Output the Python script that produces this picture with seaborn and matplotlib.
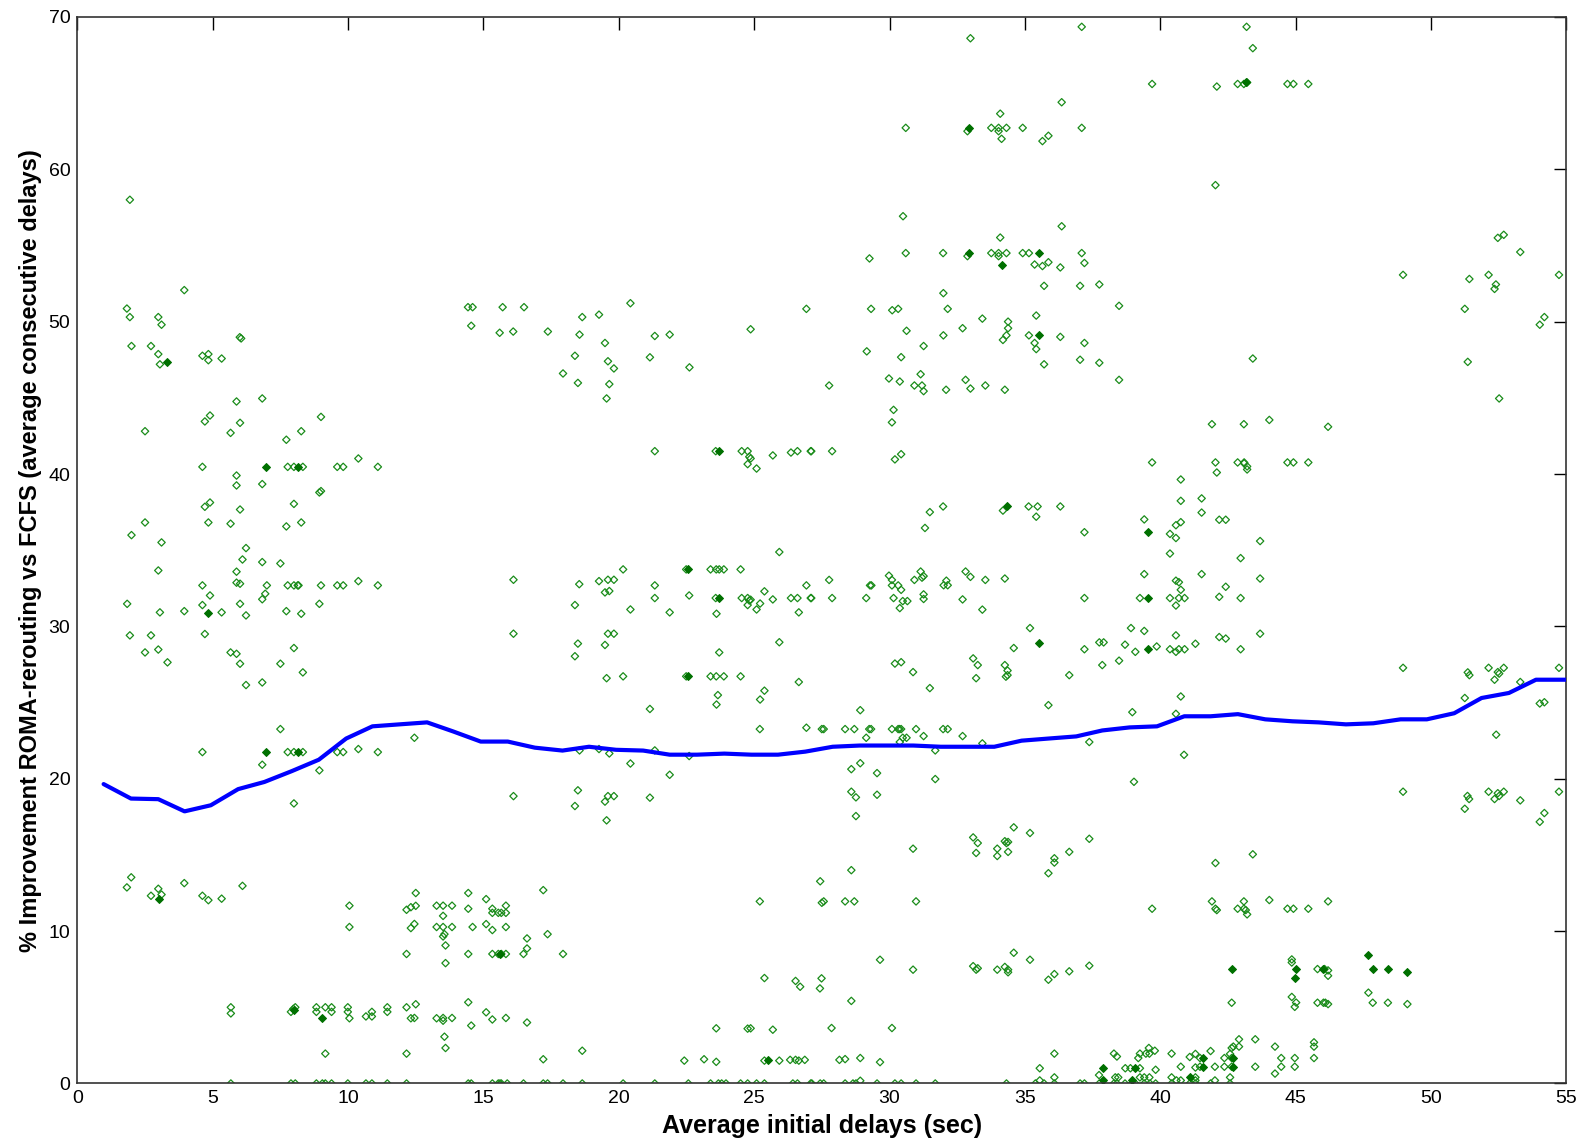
import numpy as np
import pandas as pd
import matplotlib
matplotlib.use("Agg")
import matplotlib.pyplot as plt
import seaborn as sns

# ---- data ---------------------------------------------------------------
# moving average (blue line)
line_x = [0.97, 1.98, 2.99, 3.96, 4.93, 5.94, 6.91, 7.92, 8.92, 9.93, 10.9, 11.9,
          12.92, 13.89, 14.9, 15.9, 16.9, 17.92, 18.9, 19.9, 20.9, 21.88, 22.89,
          23.9, 24.9, 25.88, 26.89, 27.9, 28.9, 29.87, 30.88, 31.89, 32.9, 33.87,
          34.88, 35.88, 36.9, 37.86, 38.87, 39.88, 40.89, 41.86, 42.87, 43.88,
          44.89, 45.85, 46.86, 47.87, 48.88, 49.85, 50.86, 51.87, 52.88, 53.88, 55.0]
line_y = [19.65, 18.7, 18.66, 17.86, 18.26, 19.32, 19.79, 20.5, 21.25, 22.64, 23.44,
          23.57, 23.7, 23.1, 22.44, 22.44, 22.04, 21.85, 22.1, 21.9, 21.85, 21.58,
          21.58, 21.65, 21.58, 21.58, 21.78, 22.1, 22.18, 22.18, 22.18, 22.1, 22.1,
          22.1, 22.5, 22.64, 22.78, 23.17, 23.37, 23.44, 24.1, 24.1, 24.24, 23.9,
          23.77, 23.7, 23.57, 23.64, 23.9, 23.9, 24.3, 25.3, 25.63, 26.5, 26.5]

# scattered samples, x < 13
left_high = [(1.94, 58.0), (3.95, 52.07), (1.83, 50.86), (1.94, 50.3), (2.99, 50.3),
             (3.11, 49.8), (6.0, 48.98), (6.05, 48.9), (2.0, 48.4), (2.72, 48.4),
             (2.99, 47.87), (3.05, 47.2), (4.62, 47.76), (4.84, 47.87), (4.84, 47.47),
             (5.33, 47.58), (5.88, 44.76), (6.83, 44.96), (4.9, 43.84), (4.71, 43.45),
             (6.01, 43.36), (9.0, 43.75), (2.5, 42.81), (5.66, 42.7), (8.27, 42.81),
             (7.72, 42.25), (10.38, 41.02), (4.62, 40.47), (7.77, 40.47), (8.0, 40.47),
             (8.33, 40.47), (9.6, 40.47), (9.82, 40.47), (11.1, 40.47)]
left_mid = [(5.88, 39.9), (5.88, 39.25), (6.83, 39.34), (8.94, 38.79), (9.0, 38.88),
            (4.9, 38.13), (4.71, 37.85), (6.01, 37.67), (8.0, 38.04), (2.5, 36.82),
            (4.84, 36.82), (5.66, 36.74), (7.72, 36.56), (8.27, 36.82), (2.0, 35.99),
            (3.11, 35.51), (6.23, 35.14), (6.1, 34.39), (6.83, 34.22), (7.5, 34.13),
            (2.99, 33.67), (5.88, 33.59), (4.62, 32.69), (7.0, 32.69), (7.77, 32.69),
            (8.0, 32.69), (8.14, 32.69), (8.17, 32.69), (9.0, 32.69), (9.6, 32.69),
            (9.82, 32.69), (11.1, 32.69), (5.88, 32.87), (6.01, 32.8), (10.38, 32.97),
            (6.94, 32.14), (6.83, 31.78), (4.9, 32.03), (1.84, 31.48), (4.62, 31.4),
            (6.01, 31.48), (8.94, 31.48), (3.05, 30.92), (3.95, 31.0), (5.33, 30.92),
            (6.23, 30.72), (7.72, 31.0), (8.27, 30.83), (1.94, 29.41), (2.72, 29.41),
            (4.71, 29.5), (8.0, 28.58), (2.5, 28.29), (2.99, 28.48), (5.66, 28.29),
            (5.88, 28.2), (3.33, 27.64), (6.01, 27.55), (7.5, 27.55), (8.33, 26.98),
            (6.23, 26.15), (6.83, 26.32)]
left_low = [(7.5, 23.26), (12.45, 22.69), (4.62, 21.75), (7.77, 21.75), (8.0, 21.75),
            (8.33, 21.75), (9.6, 21.75), (9.82, 21.75), (11.1, 21.75), (10.38, 21.95),
            (6.83, 20.92), (8.94, 20.55), (8.0, 18.38), (1.99, 13.53), (1.83, 12.87),
            (3.95, 13.15), (2.99, 12.78), (2.72, 12.32), (3.11, 12.4), (4.62, 12.32),
            (4.84, 12.03), (5.33, 12.13), (6.1, 12.97), (10.05, 11.67), (10.05, 10.27),
            (12.5, 12.5), (12.16, 11.4), (12.32, 11.57), (12.5, 11.66), (12.32, 10.2),
            (12.45, 10.47), (12.16, 8.5), (13.27, 11.67), (13.27, 10.27),
            (5.67, 5.0), (5.67, 4.6), (7.89, 4.7), (7.98, 4.9), (8.05, 5.0),
            (8.83, 5.0), (8.83, 4.7), (9.16, 5.0), (9.39, 5.0), (9.39, 4.7),
            (9.99, 5.0), (9.99, 4.7), (10.66, 4.4), (10.88, 4.7), (10.88, 4.4),
            (11.45, 5.0), (11.45, 4.7), (12.16, 5.0), (12.5, 5.2), (10.05, 4.28),
            (12.32, 4.28), (12.45, 4.3), (13.27, 4.28), (9.16, 1.96), (12.16, 1.96)]

# 13 < x < 27
mid_high = [(14.43, 50.95), (14.6, 50.95), (15.71, 50.95), (16.5, 50.95), (20.43, 51.21),
            (26.93, 50.84), (14.55, 49.73), (18.65, 50.3), (19.27, 50.46), (15.6, 49.27),
            (16.1, 49.35), (17.38, 49.35), (18.55, 49.15), (21.33, 49.06), (21.88, 49.15),
            (24.87, 49.5), (19.49, 48.6), (18.38, 47.76), (21.15, 47.66), (19.6, 47.4),
            (19.82, 46.93), (17.94, 46.6), (18.49, 45.98), (22.61, 47.0), (19.65, 45.9),
            (19.55, 44.96), (21.33, 41.5), (23.58, 41.5), (24.54, 41.5), (24.76, 41.5),
            (26.6, 41.5), (27.09, 41.5), (25.69, 41.22), (26.36, 41.41), (24.82, 41.13),
            (24.87, 41.02), (24.76, 40.65), (25.09, 40.36)]
mid_mid = [(25.93, 34.88), (20.16, 33.74), (22.49, 33.74), (23.39, 33.74), (23.6, 33.74),
           (23.71, 33.74), (23.88, 33.74), (24.5, 33.74), (16.11, 33.06), (18.54, 32.77),
           (19.27, 32.97), (19.6, 33.06), (19.82, 33.06), (19.49, 32.23), (19.65, 32.32),
           (21.33, 32.69), (21.33, 31.86), (22.6, 32.03), (23.58, 31.86), (24.54, 31.86),
           (24.76, 31.86), (26.36, 31.86), (26.6, 31.86), (27.09, 31.86), (24.82, 31.7),
           (24.87, 31.75), (26.93, 32.69), (25.38, 32.3), (25.69, 31.77), (24.76, 31.4),
           (25.22, 31.5), (25.09, 31.11), (18.38, 31.4), (20.43, 31.11), (21.88, 30.92),
           (23.61, 30.83), (26.65, 30.92), (16.11, 29.52), (19.6, 29.52), (19.82, 29.52),
           (18.49, 28.87), (19.49, 28.78), (18.38, 28.04), (25.93, 28.96), (23.71, 28.29),
           (20.16, 26.72), (22.49, 26.72), (23.39, 26.72), (23.6, 26.72), (23.88, 26.72),
           (24.5, 26.72), (19.55, 26.6), (26.65, 26.35), (25.38, 25.78), (23.66, 25.49),
           (25.22, 25.2), (23.61, 24.87), (21.15, 24.58)]
mid_low = [(25.21, 23.26), (26.93, 23.35), (18.55, 21.86), (19.27, 21.95), (19.65, 21.66),
           (21.33, 21.86), (22.6, 21.49), (20.43, 21.0), (21.88, 20.26), (16.11, 18.86),
           (18.49, 19.24), (18.38, 18.21), (19.49, 18.5), (19.6, 18.86), (19.82, 18.86),
           (21.15, 18.76), (19.55, 17.27), (14.44, 12.5), (13.51, 11.67), (13.84, 11.67),
           (14.44, 11.47), (15.1, 12.1), (15.33, 11.47), (15.33, 11.2), (15.55, 11.2),
           (15.66, 11.2), (15.83, 11.2), (15.83, 11.67), (17.21, 12.69), (13.51, 11.0),
           (13.51, 10.27), (13.84, 10.27), (14.6, 10.27), (15.1, 10.46), (15.33, 10.07),
           (15.83, 10.27), (13.56, 9.8), (13.51, 9.65), (13.6, 9.06), (16.61, 9.52),
           (16.61, 8.86), (17.37, 9.8), (13.6, 7.9), (14.44, 8.5), (15.33, 8.5),
           (15.55, 8.5), (15.66, 8.5), (15.83, 8.5), (16.48, 8.5), (17.94, 8.5),
           (14.44, 5.33), (15.1, 4.67), (13.51, 4.3), (13.51, 4.12), (13.84, 4.3),
           (14.55, 3.8), (15.33, 4.2), (15.83, 4.3), (16.61, 4.0), (13.56, 3.07),
           (13.6, 2.33), (17.21, 1.59), (18.65, 2.15), (25.38, 6.92), (26.53, 6.73),
           (26.7, 6.35), (25.21, 11.95), (23.6, 3.62), (24.76, 3.6), (24.87, 3.62),
           (25.69, 3.53), (22.42, 1.5), (23.15, 1.59), (23.6, 1.42), (25.38, 1.5),
           (25.93, 1.5), (26.33, 1.55), (26.53, 1.55), (26.65, 1.5), (26.87, 1.55)]

# 27 < x < 41
right_high = [(32.99, 68.6), (37.1, 69.35), (39.7, 65.6), (36.36, 64.4), (34.09, 63.65),
              (30.6, 62.72), (33.76, 62.72), (34.03, 62.72), (34.32, 62.72), (34.92, 62.72),
              (37.1, 62.72), (32.88, 62.5), (34.03, 62.5), (34.14, 62.0), (35.87, 62.2),
              (35.65, 61.85), (30.5, 56.92), (36.36, 56.26), (34.09, 55.52), (30.6, 54.5),
              (31.98, 54.5), (33.76, 54.5), (34.03, 54.5), (34.32, 54.5), (34.92, 54.5),
              (35.15, 54.5), (37.1, 54.5), (32.88, 54.3), (34.03, 54.3), (29.26, 54.15),
              (35.36, 53.75), (35.65, 53.65), (35.87, 53.9), (36.31, 53.56), (37.2, 53.85),
              (35.71, 52.35), (37.04, 52.35), (37.75, 52.44), (31.99, 51.87), (38.48, 51.04),
              (29.32, 50.84), (30.1, 50.75), (30.32, 50.84), (32.15, 50.84), (33.43, 50.2),
              (35.42, 50.4), (34.38, 50.0), (34.38, 49.57), (32.7, 49.57), (30.63, 49.4),
              (31.99, 49.1), (34.32, 49.1), (34.19, 48.8), (35.15, 49.1), (36.31, 49.0),
              (35.36, 48.6), (35.42, 48.2), (37.2, 48.6), (31.26, 48.4), (29.16, 48.05),
              (30.43, 47.67), (35.71, 47.2), (37.04, 47.5), (37.75, 47.3), (38.48, 46.18),
              (27.77, 45.81), (29.98, 46.27), (30.38, 46.07), (31.15, 46.55), (30.92, 45.81),
              (31.2, 45.81), (31.26, 45.44), (32.09, 45.53), (32.81, 46.18), (32.99, 45.61),
              (33.54, 45.81), (34.26, 45.53), (30.15, 44.21), (30.09, 43.39), (27.11, 41.5),
              (27.88, 41.5), (30.43, 41.3), (30.2, 40.96), (39.7, 40.76)]
right_mid = [(40.76, 39.64), (40.76, 38.24), (40.76, 36.84), (39.41, 37.02), (40.36, 36.07),
             (40.58, 36.64), (40.58, 35.8), (40.36, 34.78), (31.98, 37.87), (35.14, 37.87),
             (35.47, 37.87), (36.31, 37.87), (34.19, 37.6), (31.49, 37.5), (35.42, 37.2),
             (31.31, 36.46), (37.2, 36.18), (27.77, 33.05), (29.28, 32.69), (29.33, 32.69),
             (29.98, 33.33), (30.09, 33.05), (30.09, 32.69), (30.32, 32.69), (30.43, 32.4),
             (30.92, 33.05), (31.15, 33.6), (31.2, 33.2), (31.26, 33.3), (32.0, 32.7),
             (32.1, 33.0), (32.15, 32.7), (32.81, 33.6), (32.99, 33.25), (33.54, 33.05),
             (34.26, 33.14), (27.11, 31.86), (27.88, 31.86), (29.14, 31.86), (30.15, 31.86),
             (37.2, 31.86), (39.25, 31.86), (40.36, 31.86), (40.69, 31.86), (40.9, 31.86),
             (30.49, 31.66), (30.66, 31.66), (31.26, 32.1), (31.26, 31.8), (32.7, 31.77),
             (30.38, 31.2), (33.43, 31.1), (39.41, 33.43), (40.58, 33.0), (40.69, 32.9),
             (40.76, 32.4), (40.58, 31.37), (35.19, 29.89), (34.59, 28.58), (38.92, 29.89),
             (39.41, 29.7), (40.58, 29.41), (37.75, 28.95), (37.91, 28.95), (38.7, 28.8),
             (39.08, 28.33), (39.87, 28.68), (40.36, 28.5), (40.58, 28.33), (40.69, 28.5),
             (40.9, 28.5), (37.2, 28.5), (37.86, 27.46), (38.48, 27.75), (30.2, 27.56),
             (30.43, 27.65), (30.87, 27.0), (33.09, 27.9), (33.26, 27.46), (34.26, 27.46),
             (34.36, 27.1), (34.36, 26.8), (34.3, 26.7), (33.2, 26.6), (36.64, 26.8),
             (31.49, 25.95), (40.76, 25.4), (28.92, 24.5), (35.87, 24.83), (38.97, 24.37),
             (40.58, 24.26)]
right_low = [(27.5, 23.26), (27.57, 23.26), (28.36, 23.26), (28.7, 23.26), (29.25, 23.26),
             (29.32, 23.26), (30.09, 23.26), (30.32, 23.26), (30.37, 23.26), (30.43, 23.26),
             (30.98, 23.26), (31.98, 23.26), (32.15, 23.26), (29.14, 22.69), (30.49, 22.69),
             (30.63, 22.69), (31.26, 22.8), (32.7, 22.8), (30.38, 22.41), (33.43, 22.32),
             (31.69, 21.86), (37.38, 22.41), (40.88, 21.57), (28.92, 21.02), (28.59, 20.63),
             (29.54, 20.37), (31.69, 19.98), (39.03, 19.8), (28.59, 19.15), (28.76, 18.78),
             (29.54, 18.95), (28.76, 17.55), (34.59, 16.81), (35.19, 16.44), (33.09, 16.15),
             (33.26, 15.78), (33.2, 15.13), (33.98, 15.41), (33.98, 14.93), (34.26, 15.9),
             (34.32, 15.78), (34.38, 15.85), (34.38, 15.2), (36.09, 14.78), (36.09, 14.5),
             (35.87, 13.8), (36.64, 15.2), (37.38, 16.06), (30.87, 15.41), (28.59, 14.0),
             (27.44, 13.27), (27.5, 11.86), (27.57, 11.95), (28.36, 11.95), (28.7, 11.95),
             (30.98, 11.95), (39.7, 11.47), (29.65, 8.12), (27.49, 6.9), (27.43, 6.24),
             (28.59, 5.42), (30.87, 7.47), (33.09, 7.7), (33.2, 7.47), (33.26, 7.56),
             (33.98, 7.47), (34.26, 7.65), (34.38, 7.47), (34.38, 7.3), (34.59, 8.58),
             (35.19, 8.12), (35.87, 6.81), (36.09, 7.18), (36.64, 7.36), (37.38, 7.73),
             (27.86, 3.64), (30.09, 3.64), (28.15, 1.55), (28.36, 1.6), (28.92, 1.67),
             (29.65, 1.4), (28.92, 0.18), (36.09, 1.96), (35.55, 1.0), (35.55, 0.2),
             (36.09, 0.4), (38.29, 1.96), (38.4, 1.77), (39.58, 2.33), (39.25, 1.96),
             (39.47, 1.96), (39.6, 1.96), (39.8, 2.15), (39.19, 1.67), (40.42, 1.96),
             (37.74, 0.55), (38.71, 1.0), (38.9, 1.0), (39.25, 1.0), (39.83, 0.9),
             (40.76, 1.1), (38.34, 0.4), (38.45, 0.4), (39.25, 0.4), (39.41, 0.4),
             (39.6, 0.4), (40.42, 0.4), (40.6, 0.2), (40.76, 0.2)]

# x > 41
far_high = [(43.19, 69.35), (43.42, 67.95), (42.09, 65.43), (42.86, 65.6), (43.09, 65.6),
            (43.21, 65.7), (44.7, 65.6), (44.92, 65.6), (45.47, 65.6), (42.04, 58.96),
            (43.42, 47.58), (48.97, 53.07), (52.47, 55.5), (52.69, 55.7), (53.3, 54.57),
            (51.42, 52.8), (52.13, 53.07), (52.4, 52.44), (52.35, 52.15), (51.25, 50.84),
            (54.19, 50.3), (54.02, 49.8), (54.73, 53.07), (51.36, 47.36), (52.52, 44.96),
            (41.91, 43.27), (43.09, 43.27), (44.03, 43.55), (46.2, 43.1), (42.04, 40.76),
            (42.86, 40.76), (43.1, 40.76), (43.1, 40.7), (44.7, 40.76), (44.92, 40.76),
            (45.47, 40.76), (43.21, 40.5), (43.21, 40.3), (42.09, 40.1)]
far_mid = [(41.53, 38.4), (41.53, 37.47), (42.18, 37.0), (42.42, 37.0), (43.69, 35.6),
           (42.97, 34.48), (41.53, 33.43), (42.42, 32.6), (43.69, 33.14), (42.18, 31.94),
           (42.97, 31.86), (42.18, 29.3), (42.42, 29.2), (41.3, 28.86), (43.69, 29.52),
           (42.97, 28.5), (48.97, 27.28), (51.36, 26.98), (51.42, 26.8), (52.13, 27.28),
           (52.47, 27.0), (52.52, 26.9), (52.69, 27.28), (52.35, 26.5), (53.3, 26.35),
           (51.25, 25.3), (54.02, 24.94), (54.19, 25.02), (54.73, 27.28)]
far_low = [(52.41, 22.89), (48.97, 19.15), (51.35, 18.87), (51.41, 18.67), (52.13, 19.15),
           (52.47, 19.05), (52.52, 18.87), (52.35, 18.67), (52.69, 19.15), (53.3, 18.58),
           (51.25, 18.03), (54.19, 17.75), (54.02, 17.17), (54.73, 19.15), (43.42, 15.04),
           (42.04, 14.47), (41.91, 11.95), (43.09, 11.95), (44.03, 12.04), (46.2, 11.95),
           (42.04, 11.47), (42.09, 11.38), (42.86, 11.47), (43.09, 11.47), (43.16, 11.38),
           (43.21, 11.1), (44.7, 11.47), (44.92, 11.47), (45.47, 11.47), (44.86, 8.14),
           (44.86, 7.94), (45.81, 7.51), (46.07, 7.51), (46.2, 7.42), (46.2, 7.07),
           (47.69, 5.96), (42.64, 5.3), (44.86, 5.68), (45.02, 5.31), (44.97, 5.03),
           (45.81, 5.3), (46.03, 5.3), (46.1, 5.3), (46.2, 5.21), (47.85, 5.3),
           (48.41, 5.3), (49.13, 5.21), (42.91, 2.9), (43.51, 2.9), (42.7, 2.42),
           (42.91, 2.42), (42.64, 2.33), (44.24, 2.42), (45.68, 2.7), (45.68, 2.42),
           (41.86, 2.13), (41.09, 1.74), (41.3, 1.94), (41.47, 1.67), (42.37, 1.67),
           (42.58, 1.94), (42.64, 1.67), (44.47, 1.67), (44.97, 1.67), (45.68, 1.67),
           (41.3, 1.05), (41.47, 1.1), (42.02, 1.1), (42.37, 1.1), (42.64, 1.1),
           (43.51, 1.1), (44.47, 1.1), (44.97, 1.1), (44.24, 0.65), (41.3, 0.4),
           (41.3, 0.2), (42.02, 0.2), (42.58, 0.4)]

# samples sitting on 0 %
zero_x = [5.67, 7.89, 8.05, 8.83, 9.05, 9.16, 9.39, 9.99, 10.66, 10.88, 11.45, 12.16,
          14.44, 14.55, 15.33, 15.55, 15.61, 15.66, 15.88, 16.48, 17.21, 17.37, 17.94,
          18.65, 20.16, 21.33, 22.57, 23.39, 23.68, 23.8, 23.96, 24.5, 24.76, 25.09,
          25.38, 26.43, 26.6, 27.09, 27.13, 27.44, 27.57, 28.36, 28.65, 28.76, 29.54,
          30.2, 30.43, 30.98, 31.69, 34.32, 35.39, 35.71, 36.09, 37.04, 37.2, 37.75,
          38.29, 38.4, 38.7, 38.97, 39.08, 39.41, 39.62, 39.83, 40.42, 41.09, 41.3,
          41.86, 42.58]

# heavily overlapping samples (drawn darker)
dense = [(3.33, 47.36), (6.97, 40.47), (8.14, 40.47), (4.84, 30.88), (6.97, 21.75),
         (8.14, 21.75), (3.03, 12.13), (9.05, 4.3), (8.0, 4.8), (23.71, 41.5),
         (22.57, 33.74), (23.71, 31.86), (22.57, 26.72), (15.61, 8.5), (25.53, 1.55),
         (32.95, 62.72), (32.95, 54.5), (35.51, 54.5), (34.17, 53.75), (35.51, 49.1),
         (39.55, 36.18), (34.33, 37.87), (39.55, 31.86), (35.52, 28.9), (39.55, 28.5),
         (37.87, 1.0), (39.08, 1.0), (37.87, 0.2), (38.97, 0.2), (43.16, 65.7),
         (47.69, 8.45), (42.64, 7.51), (45.02, 7.51), (44.97, 6.94), (46.03, 7.51),
         (47.85, 7.51), (48.41, 7.51), (49.13, 7.31), (41.59, 1.67), (42.7, 1.67),
         (41.59, 1.1), (42.7, 1.1), (41.09, 0.4)]

# ---- build frames -------------------------------------------------------
pts = left_high + left_mid + left_low + mid_high + mid_mid + mid_low \
    + right_high + right_mid + right_low + far_high + far_mid + far_low
scatter_df = pd.DataFrame(pts, columns=["x", "y"])
scatter_df = pd.concat([scatter_df, pd.DataFrame({"x": zero_x, "y": 0.0})],
                       ignore_index=True)
dense_df = pd.DataFrame(dense, columns=["x", "y"])
line_df = pd.DataFrame({"x": line_x, "y": line_y})

# ---- plot ---------------------------------------------------------------
sns.set_style("white")
plt.rcParams["font.family"] = ["Liberation Sans", "DejaVu Sans"]
plt.rcParams["text.color"] = "black"
plt.rcParams["axes.labelcolor"] = "black"

fig = plt.figure(figsize=(15.85, 11.44), dpi=100)
ax = fig.add_axes([0.0488, 0.0529, 0.9394, 0.9323])

green = "#1a8c1a"
sns.scatterplot(data=scatter_df, x="x", y="y", ax=ax, marker="D", s=14,
                color=green, facecolor="none", edgecolor=green, linewidth=0.9,
                zorder=2)
sns.scatterplot(data=dense_df, x="x", y="y", ax=ax, marker="D", s=16,
                color="#007000", edgecolor="#007000", linewidth=0.8, zorder=2)
sns.lineplot(data=line_df, x="x", y="y", ax=ax, color="#0000ff", linewidth=3,
             zorder=3, estimator=None, sort=False)

ax.set_xlim(0, 55)
ax.set_ylim(0, 70)
ax.set_xticks(range(0, 56, 5))
ax.set_yticks(range(0, 71, 10))
ax.tick_params(direction="in", top=True, right=True, length=9, width=1,
               labelsize=14, pad=5, colors="#000000")
for sp in ax.spines.values():
    sp.set_color("#333333")
    sp.set_linewidth(1.2)

ax.set_xlabel("Average initial delays (sec)", fontsize=18, fontweight="bold", labelpad=5)
ax.set_ylabel("% Improvement ROMA-rerouting vs FCFS (average consecutive delays)",
              fontsize=17, fontweight="bold", labelpad=5)

fig.savefig("out.png", dpi=100)
